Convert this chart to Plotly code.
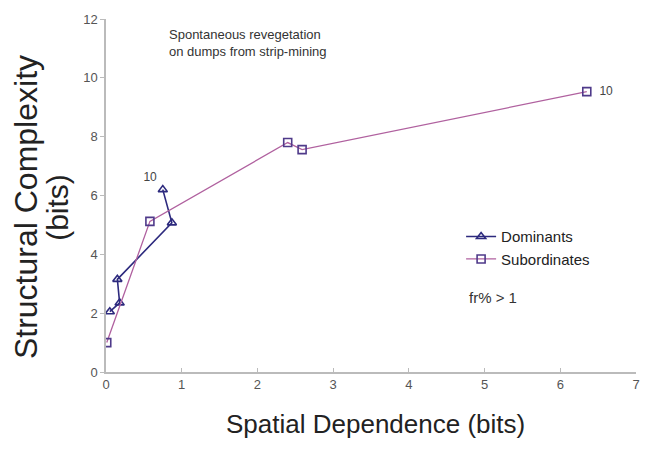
import plotly.graph_objects as go

dom_x = [0.05, 0.18, 0.15, 0.87, 0.75]
dom_y = [2.05, 2.35, 3.15, 5.07, 6.2]
dom_text = ["", "", "", "", "10"]

sub_x = [0.01, 0.58, 2.40, 2.59, 6.35]
sub_y = [1.0, 5.12, 7.8, 7.56, 9.53]
sub_text = ["", "", "", "", "&nbsp;&nbsp;10"]

x_ticks = [0, 1, 2, 3, 4, 5, 6, 7]
y_ticks = [0, 2, 4, 6, 8, 10, 12]

font = "Liberation Sans, Arial, sans-serif"
navy = "#2d2a7e"
pink = "#b0619f"
sq_edge = "#4f3a8a"

# plot area in pixels
L, R, T, B = 106, 640, 18, 372
W, H = R - L, B - T

def px(x):
    return (x - L) / W

def py(y):
    return (B - y) / H

fig = go.Figure()
fig.add_trace(go.Scatter(
    x=dom_x, y=dom_y, name="Dominants", mode="lines+markers+text",
    text=dom_text, textposition="top left",
    textfont=dict(family=font, size=12, color="#444"),
    line=dict(color=navy, width=1.6),
    marker=dict(symbol="triangle-up-open", size=8, color=navy, line=dict(width=1.6, color=navy)),
))
fig.add_trace(go.Scatter(
    x=sub_x, y=sub_y, name="Subordinates", mode="lines+markers+text",
    text=sub_text, textposition="middle right",
    textfont=dict(family=font, size=12, color="#444"),
    line=dict(color=pink, width=1.3),
    marker=dict(symbol="square-open", size=8, color=sq_edge, line=dict(width=1.6, color=sq_edge)),
))

fig.update_layout(
    width=652, height=453,
    margin=dict(l=L, r=652 - R, t=T, b=453 - B),
    paper_bgcolor="white", plot_bgcolor="white",
    font=dict(family=font, color="#555"),
    legend=dict(x=0.67, y=0.43, xanchor="left", yanchor="top",
                font=dict(family=font, size=15, color="#222"),
                bgcolor="rgba(0,0,0,0)", tracegroupgap=6),
    xaxis=dict(range=[0, 7], tickvals=x_ticks, showgrid=False, zeroline=False,
               showline=True, linecolor="#bbbbbb", linewidth=1.5,
               ticks="inside", ticklen=4, tickcolor="#bbbbbb",
               tickfont=dict(family=font, size=13, color="#555")),
    yaxis=dict(range=[0, 12], tickvals=y_ticks, showgrid=False, zeroline=False,
               showline=True, linecolor="#bbbbbb", linewidth=1.5,
               ticks="outside", ticklen=4, tickcolor="#bbbbbb",
               tickfont=dict(family=font, size=13, color="#555")),
    annotations=[
        dict(xref="paper", yref="paper", x=px(378), y=py(424),
             xanchor="center", yanchor="middle", showarrow=False,
             text="Spatial Dependence (bits)",
             font=dict(family=font, size=26, color="#222")),
        dict(xref="paper", yref="paper", x=px(26), y=py(207), textangle=-90,
             xanchor="center", yanchor="middle", showarrow=False,
             text="Structural Complexity",
             font=dict(family=font, size=32, color="#222")),
        dict(xref="paper", yref="paper", x=px(57), y=py(207), textangle=-90,
             xanchor="center", yanchor="middle", showarrow=False,
             text="(bits)",
             font=dict(family=font, size=30, color="#222")),
        dict(xref="paper", yref="paper", x=px(167), y=py(24),
             xanchor="left", yanchor="top", align="left", showarrow=False,
             text="Spontaneous revegetation<br>on dumps from strip-mining",
             font=dict(family=font, size=13, color="#333")),
        dict(xref="paper", yref="paper", x=px(470), y=py(297),
             xanchor="left", yanchor="middle", showarrow=False,
             text="fr% > 1", font=dict(family=font, size=15, color="#333")),
    ],
)

fig.write_html("out.html")
